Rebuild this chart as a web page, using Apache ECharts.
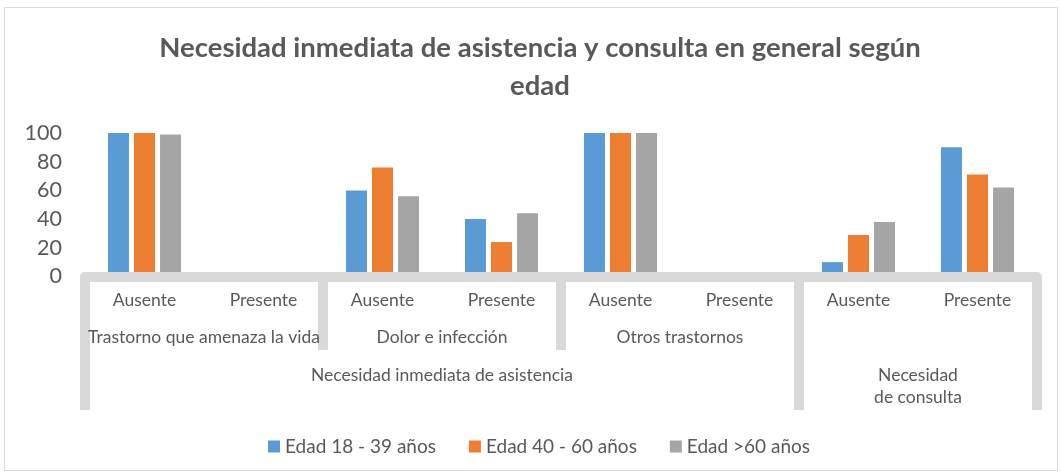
<!DOCTYPE html>
<html>
<head>
<meta charset="utf-8">
<title>Necesidad inmediata de asistencia y consulta</title>
<script src="https://cdn.jsdelivr.net/npm/echarts@6/dist/echarts.min.js"></script>
<style>
  html, body { margin: 0; padding: 0; background: #fff; }
  #chart { width: 1061px; height: 476px; }
</style>
</head>
<body>
<div id="chart"></div>
<script>
// leaf categories (bottom row)
var categories = ['Ausente', 'Presente', 'Ausente', 'Presente', 'Ausente', 'Presente', 'Ausente', 'Presente'];
// middle row, each spans 2 leaves
var subGroups = ['Trastorno que amenaza la vida', 'Dolor e infección', 'Otros trastornos', ''];
// top row and how many leaves each one covers
var topGroups = ['Necesidad inmediata de asistencia', 'Necesidad\nde consulta'];
var topSpans = [6, 2];

var seriesNames = ['Edad 18 - 39 años', 'Edad 40 - 60 años', 'Edad >60 años'];
var edad18a39 = [100, 0, 60, 40, 100, 0, 10, 90];
var edad40a60 = [100, 0, 76, 24, 100, 0, 29, 71];
var edadMas60 = [99, 1, 56, 44, 100, 0, 38, 62];
var colors = ['#5b9bd5', '#ed7d31', '#a5a5a5'];

var yTicks = [0, 20, 40, 60, 80, 100];

var txt = '#595959';
var band = '#d9d9d9';
var font = 'Lato, "Open Sans", sans-serif';

// boundaries and centres of the top row, in leaf units
var topBounds = [0];
var topCenters = [];
topSpans.forEach(function (s, i) {
  var start = topBounds[topBounds.length - 1];
  topCenters.push(start + s / 2);
  topBounds.push(start + s);
});

var chart = echarts.init(document.getElementById('chart'));

var option = {
  backgroundColor: '#fff',
  color: colors,
  textStyle: { fontFamily: font },
  graphic: [{
    type: 'rect',
    shape: { x: 4.5, y: 7.5, width: 1053, height: 463 },
    style: { fill: 'none', stroke: band, lineWidth: 1 },
    silent: true,
    z: -1
  }],
  title: {
    text: 'Necesidad inmediata de asistencia y consulta en general según\nedad',
    left: 535,
    textAlign: 'center',
    top: 24,
    textStyle: {
      fontFamily: font,
      fontSize: 27.5,
      fontWeight: 'bold',
      color: txt,
      lineHeight: 38
    }
  },
  legend: {
    data: seriesNames,
    left: 263,
    top: 432,
    icon: 'rect',
    itemWidth: 12,
    itemHeight: 12,
    itemGap: 33,
    textStyle: { fontFamily: font, fontSize: 19, color: txt, padding: [0, 0, 0, 0] }
  },
  grid: {
    left: 85,
    right: 24,
    top: 133,
    bottom: 199.5
  },
  xAxis: [
    {
      type: 'category',
      data: categories,
      position: 'bottom',
      z: 5,
      axisLine: { show: true, lineStyle: { color: band, width: 10 } },
      axisTick: { show: false },
      axisLabel: {
        interval: 0,
        margin: 15,
        fontFamily: font,
        fontSize: 17.5,
        color: txt
      }
    },
    {
      type: 'category',
      data: subGroups,
      position: 'bottom',
      z: 5,
      axisLine: { show: false },
      axisTick: {
        show: true,
        interval: 0,
        length: 73.5,
        lineStyle: { color: band, width: 10 }
      },
      axisLabel: {
        interval: 0,
        margin: 52,
        fontFamily: font,
        fontSize: 17.5,
        color: txt
      }
    },
    {
      type: 'value',
      min: 0,
      max: categories.length,
      position: 'bottom',
      z: 5,
      axisLine: { show: false },
      splitLine: { show: false },
      axisTick: {
        show: true,
        customValues: topBounds,
        length: 133.5,
        lineStyle: { color: band, width: 10 }
      },
      axisLabel: {
        customValues: topCenters,
        margin: 88,
        fontFamily: font,
        fontSize: 17.5,
        lineHeight: 22,
        color: txt,
        formatter: function (v) {
          var i = topCenters.indexOf(v);
          return i >= 0 ? topGroups[i] : '';
        }
      }
    }
  ],
  yAxis: {
    type: 'value',
    min: yTicks[0],
    max: yTicks[yTicks.length - 1],
    interval: yTicks[1] - yTicks[0],
    axisLine: { show: false },
    axisTick: { show: false },
    splitLine: { show: false },
    axisLabel: {
      margin: 23,
      fontFamily: font,
      fontSize: 21.5,
      color: txt
    }
  },
  series: [
    { name: seriesNames[0], type: 'bar', data: edad18a39, barWidth: 21, barGap: '24%' },
    { name: seriesNames[1], type: 'bar', data: edad40a60, barWidth: 21, barGap: '24%' },
    { name: seriesNames[2], type: 'bar', data: edadMas60, barWidth: 21, barGap: '24%' }
  ]
};

chart.setOption(option);
</script>
</body>
</html>
